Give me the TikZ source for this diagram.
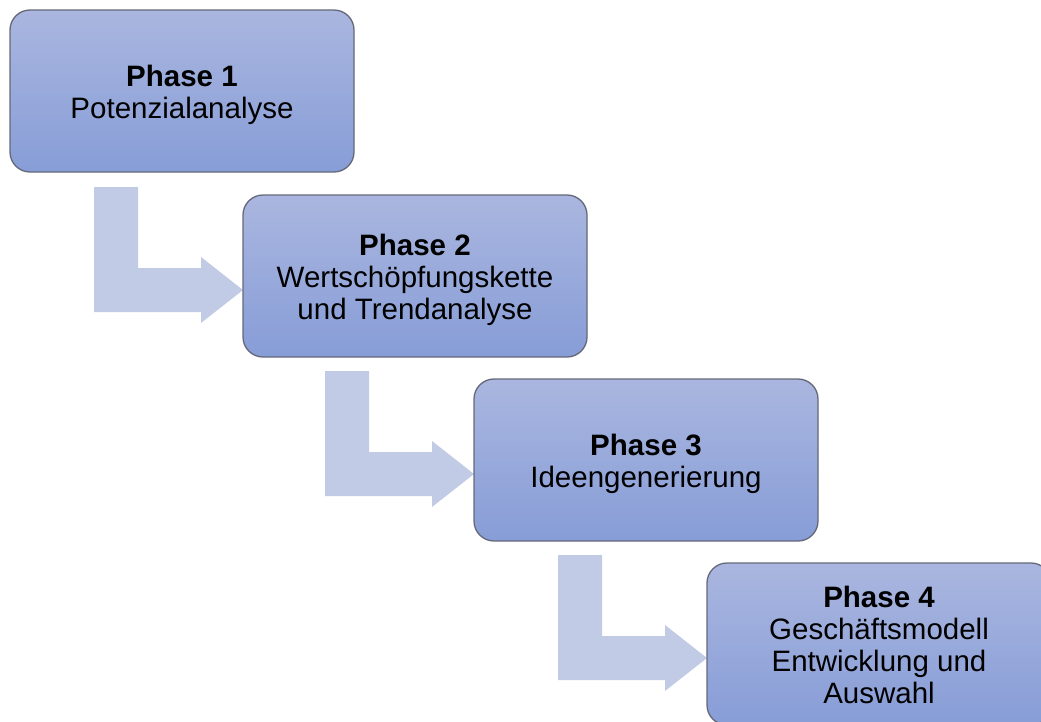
\documentclass[tikz,border=0pt]{standalone}
\usepackage{fontspec}
\setmainfont{Liberation Sans}
\usetikzlibrary{calc,backgrounds}
\definecolor{boxtop}{RGB}{170,182,223}
\definecolor{boxbot}{RGB}{135,157,215}
\definecolor{boxline}{RGB}{100,104,120}
\definecolor{flow}{RGB}{193,203,230}
\tikzset{
  phasebox/.style={rectangle, rounded corners=20pt, draw=boxline, line width=1.3pt,
    top color=boxtop, bottom color=boxbot, minimum width=344pt, minimum height=162pt,
    inner sep=0pt, outer sep=0pt, anchor=north west,
    font=\fontsize{29.5}{32}\selectfont},
  flowarrow/.style={fill=flow, draw=none}
}
% centred lines of a phase label, set a little below the box centre
\newcommand{\phaselines}[1]{\raisebox{-5pt}[\height][\depth]{\begin{tabular}{@{}c@{}}#1\end{tabular}}}
% bent block arrow ending at the left edge of a box
\newcommand{\bentarrow}[1]{%
  \fill[flowarrow]
    ($(#1.north west)+(-149,-8)$) -- ($(#1.north west)+(-105,-8)$)
    -- ($(#1.north west)+(-105,73)$) -- ($(#1.north west)+(-42,73)$)
    -- ($(#1.north west)+(-42,62)$) -- ($(#1.north west)+(0,95)$)
    -- ($(#1.north west)+(-42,128)$) -- ($(#1.north west)+(-42,117)$)
    -- ($(#1.north west)+(-149,117)$) -- cycle;}
\begin{document}
\begin{tikzpicture}[x=1pt,y=-1pt]
  \useasboundingbox (0,0) rectangle (1041,721);
  \clip (0,0) rectangle (1041,721);
  \node[phasebox] (b1) at (10,10) {\phaselines{\textbf{Phase 1}\\Potenzialanalyse}};
  \node[phasebox] (b2) at (243,195) {\phaselines{\textbf{Phase 2}\\Wertschöpfungskette\\und Trendanalyse}};
  \node[phasebox] (b3) at (474,379) {\phaselines{\textbf{Phase 3}\\Ideengenerierung}};
  \node[phasebox] (b4) at (707,563) {\phaselines{\textbf{Phase 4}\\Geschäftsmodell\\Entwicklung und\\Auswahl}};
  \begin{scope}[on background layer]
    \bentarrow{b2}
    \bentarrow{b3}
    \bentarrow{b4}
  \end{scope}
\end{tikzpicture}
\end{document}
